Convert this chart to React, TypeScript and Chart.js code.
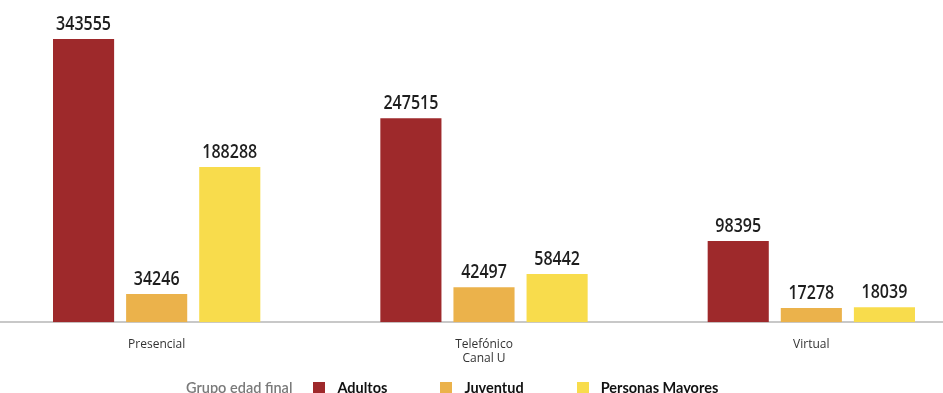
import React, { useEffect, useRef } from "react";
import { Chart, registerables } from "chart.js";

Chart.register(...registerables);

const categories: (string | string[])[] = ["Presencial", ["Telefónico", "Canal U"], "Virtual"];
const seriesNames = ["Adultos", "Juventud", "Personas Mayores"];
const adultos = [343555, 247515, 98395];
const juventud = [34246, 42497, 17278];
const personasMayores = [188288, 58442, 18039];
const seriesColors = ["#9E292B", "#EBB24B", "#F8DC4C"];
const legendTitle = "Grupo edad final";

const valueLabels = {
  id: "valueLabels",
  afterDatasetsDraw(chart: any) {
    const ctx = chart.ctx;
    const sx = 0.8;
    chart.data.datasets.forEach((ds: any, i: number) => {
      const meta = chart.getDatasetMeta(i);
      meta.data.forEach((el: any, j: number) => {
        ctx.save();
        ctx.font = "600 20px 'Open Sans', sans-serif";
        ctx.fillStyle = "#1e1e1e";
        ctx.textAlign = "center";
        ctx.textBaseline = "alphabetic";
        ctx.translate(el.x, el.y - 9);
        ctx.scale(sx, 1);
        ctx.fillText(String(ds.data[j]), 0, 0);
        ctx.restore();
      });
    });
  },
};

export default function App() {
  const ref = useRef<HTMLCanvasElement>(null);
  useEffect(() => {
    const data = [adultos, juventud, personasMayores];
    const chart = new Chart(ref.current!, {
      type: "bar",
      data: {
        labels: categories,
        datasets: seriesNames.map((name, i) => ({
          label: name,
          data: data[i],
          backgroundColor: seriesColors[i],
          borderWidth: 0,
          barPercentage: 0.836,
          categoryPercentage: 0.67,
        })),
      },
      options: {
        animation: false,
        responsive: true,
        maintainAspectRatio: false,
        layout: { padding: { top: 0, left: 0, right: 0, bottom: 12 } },
        plugins: { legend: { display: false }, tooltip: { enabled: false } },
        scales: {
          x: {
            grid: { display: false, drawTicks: false },
            border: { display: true, color: "#c8c8c8", width: 2 },
            ticks: {
              color: "#333",
              padding: 15,
              font: { family: "'Open Sans', sans-serif", size: 12 },
              maxRotation: 0,
            },
          },
          y: {
            display: false,
            min: 0,
            max: 390800,
          },
        },
      },
      plugins: [valueLabels],
    });
    return () => chart.destroy();
  }, []);

  return (
    <div style={{ position: "absolute", left: 0, top: 0, width: 943, height: 393, overflow: "hidden", background: "#fff" }}>
      <div style={{ position: "absolute", left: -7, top: 0, width: 982, height: 393 }}>
        <canvas ref={ref} />
      </div>
      <div
        style={{
          position: "absolute",
          left: 186,
          top: 379,
          display: "flex",
          alignItems: "center",
          fontFamily: "Lato, sans-serif",
          fontSize: 14.5,
          whiteSpace: "nowrap",
        }}
      >
        <span style={{ color: "#7a7a7a", fontWeight: 600, marginRight: 21 }}>{legendTitle}</span>
        {seriesNames.map((name, i) => (
          <span key={name} style={{ display: "flex", alignItems: "center", marginRight: 53 }}>
            <span style={{ width: 12, height: 12, background: seriesColors[i], marginRight: 12, display: "inline-block" }} />
            <span style={{ color: "#111", fontWeight: 700 }}>{name}</span>
          </span>
        ))}
      </div>
    </div>
  );
}
